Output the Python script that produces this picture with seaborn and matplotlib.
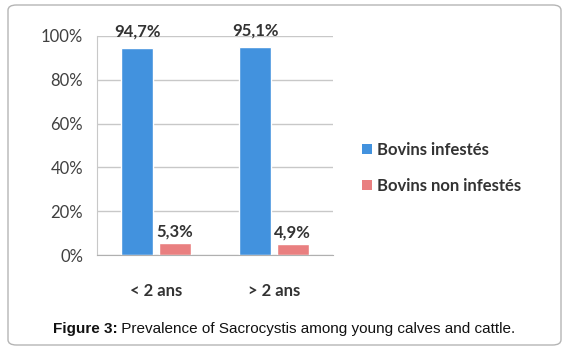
import matplotlib
matplotlib.use("Agg")
import matplotlib.pyplot as plt
import seaborn as sns
import pandas as pd
from matplotlib.patches import FancyBboxPatch, Patch

categories = ["< 2 ans", "> 2 ans"]
series_names = ["Bovins infestés", "Bovins non infestés"]
infested = [94.7, 95.1]
non_infested = [5.3, 4.9]
label_infested = ["94,7%", "95,1%"]
label_non = ["5,3%", "4,9%"]
y_ticks = [0, 20, 40, 60, 80, 100]
y_tick_labels = ["0%", "20%", "40%", "60%", "80%", "100%"]

colors = ["#4292de", "#e97f80"]

df = pd.DataFrame({
    "cat": categories * 2,
    "serie": [series_names[0]] * 2 + [series_names[1]] * 2,
    "val": infested + non_infested,
})

sns.set_style("white")
plt.rcParams["font.family"] = ["Lato", "DejaVu Sans"]

fig = plt.figure(figsize=(5.67, 3.5), dpi=100)
fig.patch.set_facecolor("white")

frame = FancyBboxPatch((8 / 567, 5 / 350), (553 / 567), (340 / 350),
                       boxstyle="round,pad=0,rounding_size=0.015",
                       transform=fig.transFigure, facecolor="none",
                       edgecolor="#b5b5b5", linewidth=1.0, zorder=-10)
fig.patches.append(frame)

ax = fig.add_axes([97 / 567, 1 - 255 / 350, 236 / 567, 219 / 350])
ax.patch.set_alpha(0)
sns.barplot(data=df, x="cat", y="val", hue="serie", palette=colors,
            width=0.635, gap=0.15, ax=ax, legend=False, saturation=1)

ax.set_ylim(0, 100)
ax.set_xlim(-0.5, 1.5)
ax.set_yticks(y_ticks)
ax.set_yticklabels(y_tick_labels)
ax.set_xlabel("")
ax.set_ylabel("")
ax.yaxis.grid(True, color="#c8c8c8", linewidth=1.0)
ax.set_axisbelow(True)
for s in ["top", "right"]:
    ax.spines[s].set_visible(False)
ax.spines["left"].set_color("#c8c8c8")
ax.spines["bottom"].set_color("#b0b0b0")
ax.tick_params(axis="y", length=4, color="#c8c8c8", labelsize=12,
               labelcolor="#404040", pad=6)
ax.set_xticks([0, 1])
ax.set_xticklabels(categories)
ax.tick_params(axis="x", length=0, labelsize=12, labelcolor="#333333", pad=20)
for lab in ax.get_xticklabels():
    lab.set_fontweight("bold")
ax.set_xticks([-0.5, 0.5, 1.5], minor=True)
ax.tick_params(axis="x", which="minor", length=5, color="#b0b0b0", direction="out")

labels = [label_infested, label_non]
paddings = [6, 3]
for ci, cont in enumerate(ax.containers):
    ax.bar_label(cont, labels=labels[ci], padding=paddings[ci], fontsize=12,
                 fontweight="bold", color="#333333")

handles = [Patch(facecolor=c, edgecolor="none") for c in colors]
fig.legend(handles, series_names, loc="center left",
           bbox_to_anchor=(347 / 567, 1 - 168 / 350), frameon=False,
           prop={"weight": "bold", "size": 12}, labelcolor="#333333",
           handlelength=0.6, handleheight=0.6, handletextpad=0.3,
           labelspacing=1.2)

# caption: bold prefix + regular text, centred as a whole
cap_y = 1 - 329 / 350
t_bold = fig.text(0, cap_y, "Figure 3:", ha="left", va="center",
                  family="Liberation Sans", fontweight="bold", fontsize=11, color="#111111")
t_reg = fig.text(0, cap_y, " Prevalence of Sacrocystis among young calves and cattle.",
                 ha="left", va="center", family="Liberation Sans", fontsize=11, color="#111111")
fig.canvas.draw()
r = fig.canvas.get_renderer()
wb = t_bold.get_window_extent(r).width
wr = t_reg.get_window_extent(r).width
start = 284 - (wb + wr) / 2
t_bold.set_x(start / 567)
t_reg.set_x((start + wb) / 567)

fig.savefig("out.png", dpi=100, facecolor="white")
